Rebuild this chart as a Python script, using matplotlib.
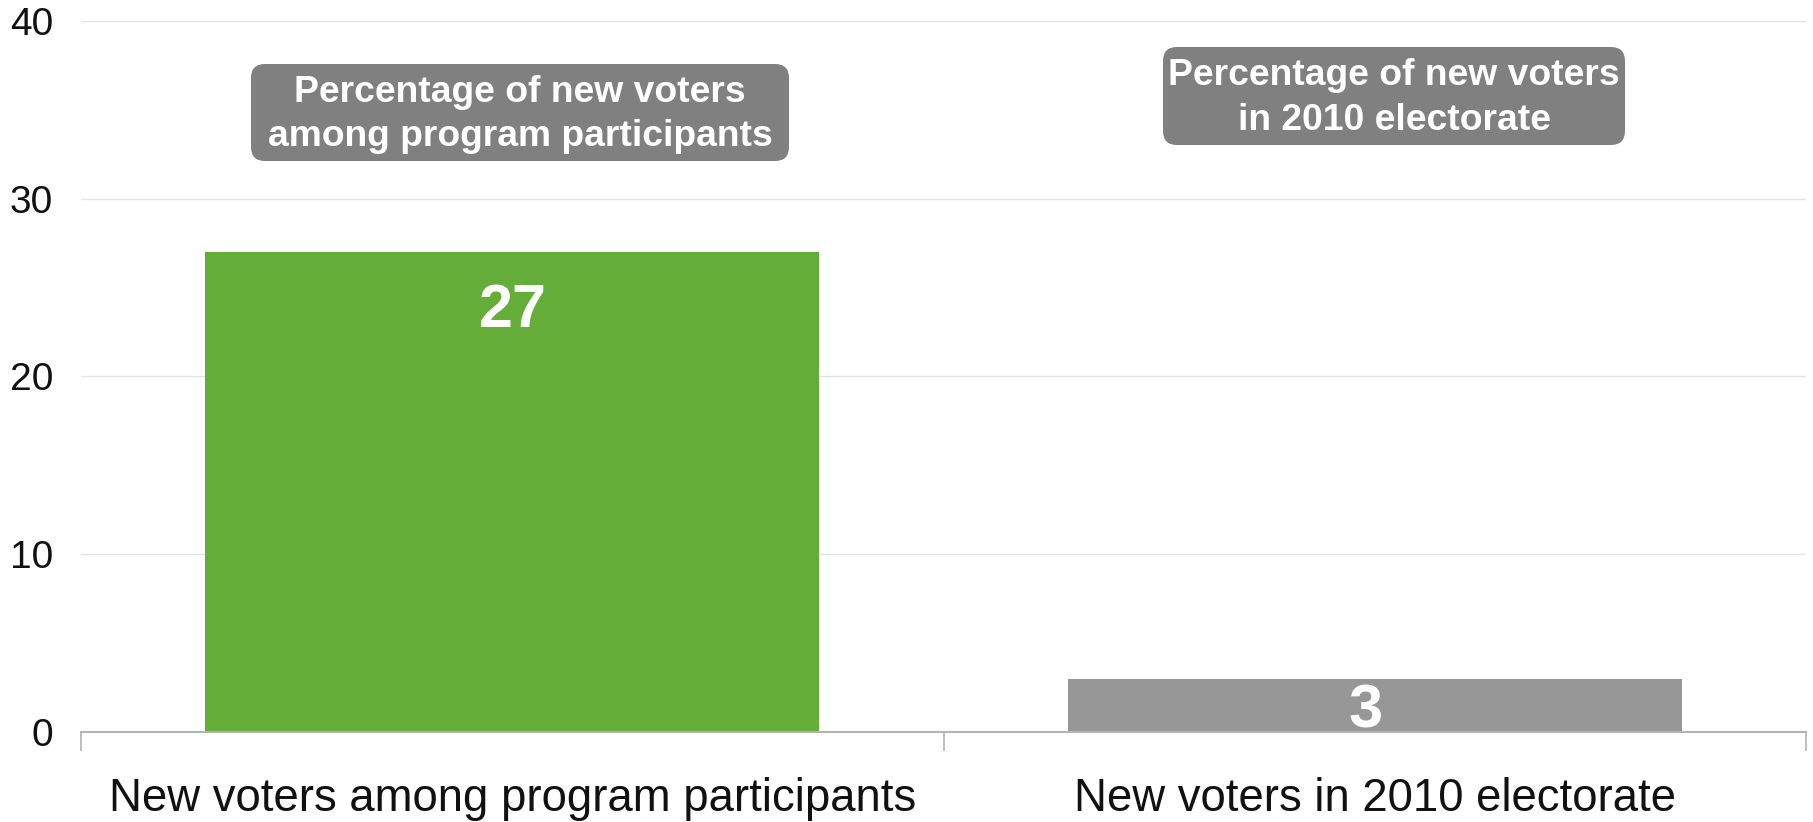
import matplotlib
matplotlib.use("Agg")
import matplotlib.pyplot as plt
from matplotlib.patches import FancyBboxPatch
from matplotlib.transforms import offset_copy

plt.rcParams['font.family'] = ['Liberation Sans', 'DejaVu Sans']

categories = ["New voters among program participants", "New voters in 2010 electorate"]
values = [27, 3]
box_texts = ["Percentage of new voters\namong program participants",
             "Percentage of new voters\nin 2010 electorate"]
y_ticks = [0, 10, 20, 30, 40]

bar_colors = ["#63AD38", "#979797"]

W, H = 1813, 822
fig = plt.figure(figsize=(W / 100, H / 100), dpi=100)
ax_left, ax_right, ax_bottom, ax_top = 81, 1806, 732, 20.8
ax = fig.add_axes([ax_left / W, (H - ax_bottom) / H,
                   (ax_right - ax_left) / W, (ax_bottom - ax_top) / H])

x = list(range(len(categories)))
bars = ax.bar(x, values, width=0.712, color=bar_colors, zorder=2)
ax.set_xlim(-0.5, len(categories) - 0.5)
ax.set_ylim(0, 40)

# grid
ax.set_yticks(y_ticks)
ax.set_yticklabels([str(t) for t in y_ticks], fontsize=28, color="#111111")
ax.tick_params(axis='y', length=0, pad=20)
ax.grid(axis='y', color="#e4e4e4", linewidth=1.0, zorder=0)
for s in ['left', 'right', 'top']:
    ax.spines[s].set_visible(False)
ax.spines['bottom'].set_color("#b3b3b3")
ax.spines['bottom'].set_linewidth(1.5)

# x ticks: boundary marks
ax.set_xticks([i - 0.5 for i in range(len(categories) + 1)])
ax.set_xticklabels([])
ax.tick_params(axis='x', length=14, width=1.2, color="#b3b3b3", direction='out')

# category labels
for i, c in enumerate(categories):
    tr = offset_copy(ax.get_xaxis_transform(), fig=fig, x=0, y=-79 * 0.72, units='points')
    ax.text(i, 0, c, transform=tr, ha='center', va='baseline', fontsize=32.8, color="#111111")

# value labels (offset in px from anchor; anchor: top of bar or bar middle)
label_anchor = ['top', 'middle']
label_offsets_px = [(1, -60), (-9, -7)]
for i, v in enumerate(values):
    yv = v if label_anchor[i] == 'top' else v / 2
    dx, dy = label_offsets_px[i]
    tr = offset_copy(ax.transData, fig=fig, x=dx * 0.72, y=dy * 0.72, units='points')
    ax.text(i, yv, str(v), transform=tr, ha='center', va='center', fontsize=44,
            fontweight='bold', color='white', zorder=3)

# annotation boxes (pixel extents: x0, x1, y0(top), y1(bottom))
box_px = [(251, 789, 64, 161), (1163, 1625, 47, 145)]
for (x0, x1, y0, y1), txt in zip(box_px, box_texts):
    fx0, fx1 = x0 / W, x1 / W
    fy0, fy1 = (H - y1) / H, (H - y0) / H
    r = 14
    patch = FancyBboxPatch((fx0 + r / W, fy0 + r / H),
                           (fx1 - fx0) - 2 * r / W, (fy1 - fy0) - 2 * r / H,
                           boxstyle=f"round,pad={r / W},rounding_size={r / W}",
                           transform=fig.transFigure, facecolor="#808080",
                           edgecolor='none', mutation_aspect=W / H, zorder=5)
    fig.patches.append(patch)
    fig.text((fx0 + fx1) / 2, (fy0 + fy1) / 2 - 2 / H, txt, ha='center', va='center',
             fontsize=26.8, fontweight='bold', color='white', linespacing=1.36,
             multialignment='center', zorder=6)

fig.savefig("out.png", dpi=100)
